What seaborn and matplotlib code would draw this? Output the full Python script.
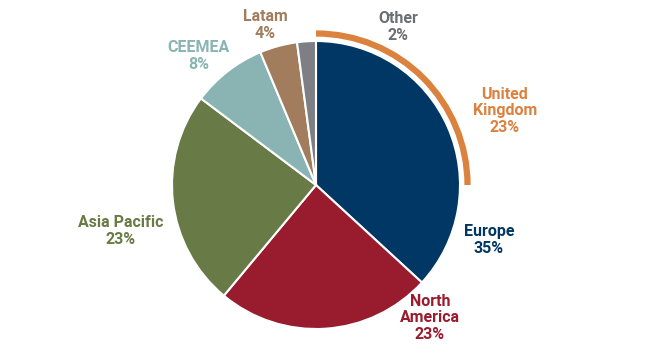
import matplotlib
matplotlib.use("Agg")
import matplotlib.pyplot as plt
from matplotlib.patches import Arc
import seaborn as sns

regions = ["Europe", "North America", "Asia Pacific", "CEEMEA", "Latam", "Other"]
shares = [35, 23, 23, 8, 4, 2]
label_text = ["Europe\n35%", "North\nAmerica\n23%", "Asia Pacific\n23%", "CEEMEA\n8%", "Latam\n4%", "Other\n2%"]
colors = ["#003764", "#981B2E", "#687A45", "#89B4B3", "#A27D5D", "#7D7F84"]
label_colors = ["#003764", "#981B2E", "#687A45", "#89B4B3", "#A27D5D", "#6D6E71"]
uk_label = "United\nKingdom\n23%"
uk_color = "#DB823F"

sns.set_theme(style="white")
plt.rcParams["font.family"] = ["Roboto", "DejaVu Sans"]

W, H = 650, 350
fig = plt.figure(figsize=(6.5, 3.5), dpi=100)
ax = fig.add_axes([0, 0, 1, 1])

cx, cy, r = 316, H - 185, 144
ax.pie(shares, colors=colors, startangle=90, counterclock=False,
       center=(cx, cy), radius=r, frame=True,
       wedgeprops=dict(edgecolor="white", linewidth=1.5))
ax.set_xlim(0, W)
ax.set_ylim(0, H)
ax.set_aspect("equal")
ax.axis("off")

# UK arc around the Europe slice
ax.add_patch(Arc((cx, cy), 2 * 151.5, 2 * 151.5, theta1=0, theta2=90,
                 color=uk_color, linewidth=4.5))

label_pos = [(489, 240), (430, 318), (121, 231), (199, 56), (265, 25), (398, 27)]
for txt, col, (x, y) in zip(label_text, label_colors, label_pos):
    ax.text(x, H - y, txt, color=col, ha="center", va="center",
            fontsize=11.5, fontweight="bold", linespacing=1.1)
ax.text(505, H - 111, uk_label, color=uk_color, ha="center", va="center",
        fontsize=11.5, fontweight="bold", linespacing=1.1)

fig.savefig("out.png", dpi=100)
